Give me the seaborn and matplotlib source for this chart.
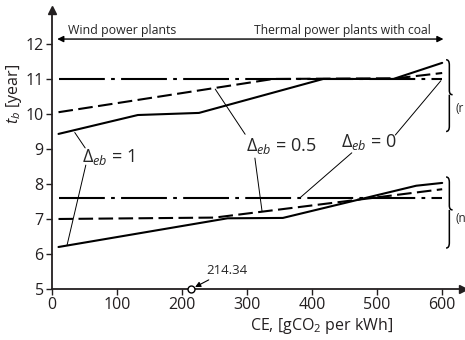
import numpy as np
import pandas as pd
import matplotlib
matplotlib.use("Agg")
import matplotlib.pyplot as plt
from matplotlib.path import Path
from matplotlib.patches import PathPatch
import seaborn as sns

# ---------------- data ----------------
up_solid_x = [10, 132, 226, 417, 525, 600]
up_solid_y = [9.43, 9.97, 10.03, 11.0, 11.0, 11.46]
up_dash_x = [10, 340, 530, 600]
up_dash_y = [10.05, 11.0, 11.02, 11.17]
up_dd_x = [10, 600]
up_dd_y = [11.0, 11.0]

lo_solid_x = [10, 270, 355, 560, 600]
lo_solid_y = [6.2, 7.02, 7.03, 7.95, 8.03]
lo_dash_x = [10, 250, 600]
lo_dash_y = [7.0, 7.04, 7.85]
lo_dd_x = [10, 600]
lo_dd_y = [7.6, 7.6]

marker_ce = 214.34
x_ticks = [0, 100, 200, 300, 400, 500, 600]
y_ticks = [5, 6, 7, 8, 9, 10, 11, 12]

rows = []
for grp, d, xs, ys in [
    ("r", "1", up_solid_x, up_solid_y),
    ("r", "0.5", up_dash_x, up_dash_y),
    ("r", "0", up_dd_x, up_dd_y),
    ("n", "1", lo_solid_x, lo_solid_y),
    ("n", "0.5", lo_dash_x, lo_dash_y),
    ("n", "0", lo_dd_x, lo_dd_y),
]:
    for x, y in zip(xs, ys):
        rows.append({"CE": x, "t": y, "delta": d, "grp": grp})
df = pd.DataFrame(rows)

# ---------------- style ----------------
sns.set_theme(style="ticks")
plt.rcParams["font.family"] = ["Open Sans", "DejaVu Sans"]
plt.rcParams["mathtext.fontset"] = "custom"
plt.rcParams["mathtext.rm"] = "Open Sans"
plt.rcParams["mathtext.it"] = "Open Sans:italic"

fig = plt.figure(figsize=(4.65, 3.4), dpi=100)
ax = fig.add_axes([52 / 465, 51 / 340, 411 / 465, 279 / 340])

sns.lineplot(
    data=df, x="CE", y="t", style="delta", units="grp", estimator=None,
    sort=False, color="black", linewidth=1.5,
    dashes={"1": "", "0.5": (7, 2.6), "0": (22, 3, 1.8, 3)},
    legend=False, ax=ax,
)

ax.set_xlim(0, 632)
ax.set_ylim(5, 12.97)
ax.set_xticks(x_ticks)
ax.set_yticks(y_ticks)
ax.tick_params(axis="both", labelsize=11.5, colors="#231f20", width=1.0,
               length=4, pad=2)
for s in ["top", "right"]:
    ax.spines[s].set_visible(False)
for s in ["left", "bottom"]:
    ax.spines[s].set_linewidth(1.3)
    ax.spines[s].set_color("#231f20")

# spine arrows
ax.plot(1, 0, ">", color="#231f20", markersize=6, transform=ax.transAxes, clip_on=False)
ax.plot(0, 1, "^", color="#231f20", markersize=6, transform=ax.transAxes, clip_on=False)

ax.set_xlabel("CE, [gCO$_2$ per kWh]", fontsize=11.5, color="#231f20")
ax.xaxis.set_label_coords(0.657, -0.095)
ax.set_ylabel("$t_b$ [year]", fontsize=11.5, color="#231f20")
ax.yaxis.set_label_coords(-0.068, 0.70)

# marker
ax.plot([marker_ce], [5], "o", mfc="white", mec="black", mew=1.0, ms=5,
        clip_on=False, zorder=5)
ax.annotate(str(marker_ce), xy=(marker_ce, 5.0), xytext=(238, 5.54),
            fontsize=9.5, ha="left", va="center",
            arrowprops=dict(arrowstyle="-|>", lw=0.8, color="black",
                            shrinkA=0, shrinkB=3, mutation_scale=8))

# region arrow
ax.annotate("", xy=(8, 12.14), xytext=(602, 12.14),
            arrowprops=dict(arrowstyle="<|-|>", lw=1.0, color="black",
                            shrinkA=0, shrinkB=0, mutation_scale=9))
ax.text(25, 12.38, "Wind power plants", fontsize=8.9, ha="left", va="center")
ax.text(582, 12.38, "Thermal power plants with coal", fontsize=8.7,
        ha="right", va="center")

# delta labels with leaders
lbl = dict(fontsize=13, ha="left", va="center")
ax.text(46, 8.78, r"$\Delta_{eb}$ = 1", **lbl)
ax.text(298, 9.08, r"$\Delta_{eb}$ = 0.5", **lbl)
ax.text(444, 9.2, r"$\Delta_{eb}$ = 0", **lbl)
leaders = [
    ((35, 9.47), (51, 9.03)),
    ((52, 8.54), (23, 6.24)),
    ((251, 10.71), (297, 9.42)),
    ((312, 8.74), (323, 7.22)),
    ((528, 9.4), (598, 10.95)),
    ((461, 8.89), (381, 7.6)),
]
for (x0, y0), (x1, y1) in leaders:
    ax.plot([x0, x1], [y0, y1], color="black", lw=0.7)


def brace(ax, x0, x1, ytop, ybot, ymid):
    # vertical brace opening to the left, tip at the right
    xm = (x0 + x1) / 2
    verts = [
        (x0, ytop), (xm, ytop), (xm, ytop - 0.15),
        (xm, ymid + 0.12),
        (xm, ymid), (x1, ymid),
        (xm, ymid), (xm, ymid - 0.12),
        (xm, ybot + 0.15),
        (xm, ybot), (x0, ybot),
    ]
    codes = [Path.MOVETO, Path.CURVE3, Path.CURVE3, Path.LINETO,
             Path.CURVE3, Path.CURVE3, Path.MOVETO, Path.CURVE3,
             Path.LINETO, Path.CURVE3, Path.CURVE3]
    p = PathPatch(Path(verts, codes), fill=False, lw=1.1, color="black",
                  clip_on=False)
    ax.add_patch(p)


brace(ax, 606, 616, 11.55, 9.5, 10.55)
brace(ax, 606, 616, 8.2, 6.17, 7.26)
ax.text(620, 10.17, "(r", fontsize=8.5, ha="left", va="center", clip_on=False)
ax.text(620, 7.0, "(n", fontsize=8.5, ha="left", va="center", clip_on=False)

fig.savefig("out.png", dpi=100)
